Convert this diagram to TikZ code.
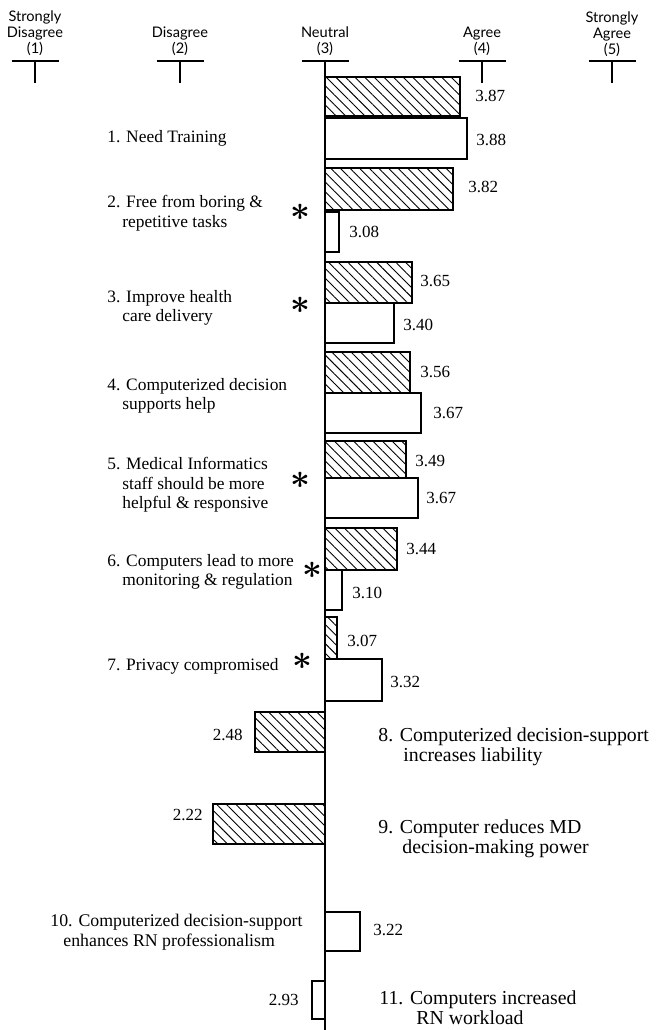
\documentclass[tikz,border=0pt]{standalone}
\usepackage{fontspec}
\setmainfont{Liberation Serif}
\newfontfamily\headfont{Lato}
\usetikzlibrary{patterns.meta}
\tikzset{
  mdbar/.style={draw=black,line width=0.6pt,pattern={Lines[angle=-45,distance=3.4pt,line width=0.45pt]}},
  rnbar/.style={draw=black,line width=0.6pt,fill=white},
  scaletick/.style={line width=1.1pt},
  axisline/.style={line width=1.1pt},
  scalelab/.style={font=\headfont\fontsize{7.3}{7.9}\selectfont,align=center,anchor=south,inner sep=0pt},
  itemL/.style={font=\fontsize{8.7}{9.7}\selectfont,align=left,anchor=north west,inner sep=0pt},
  itemR/.style={font=\fontsize{9.9}{10.2}\selectfont,align=left,anchor=north west,inner sep=0pt},
  val/.style={font=\fontsize{8.5}{8.5}\selectfont,inner sep=0pt},
  sig/.style={font=\fontsize{19}{19}\selectfont\boldmath,inner sep=0pt}
}
\newcommand{\scalemark}[1]{\draw[scaletick] (#1-23.5,61) -- (#1+23.5,61) (#1,61) -- (#1,83);}

\begin{document}
\begin{tikzpicture}[x=0.5pt,y=-0.5pt]
  \fill[white] (0,0) rectangle (662,1030);
  \useasboundingbox (0,0) rectangle (662,1030);

  \node[scalelab] (sd) at (35,56) {Strongly\\Disagree\\(1)};
  \node[scalelab] (dis) at (180,56) {Disagree\\(2)};
  \node[scalelab] (neu) at (325,56) {Neutral\\(3)};
  \node[scalelab] (agr) at (482,56) {Agree\\(4)};
  \node[scalelab] (sa) at (612,57) {Strongly\\Agree\\(5)};
  \scalemark{35}
  \scalemark{180}
  \scalemark{482}
  \scalemark{612}
  \draw[scaletick] (302,61) -- (349,61);

  \draw[mdbar] (325,77) rectangle (460,116);
  \draw[rnbar] (325,118) rectangle (467,159);
  \draw[mdbar] (325,168) rectangle (453,210);
  \draw[rnbar] (325,212) rectangle (339,252);
  \draw[mdbar] (325,262) rectangle (412,303);
  \draw[rnbar] (325,303) rectangle (394,343);
  \draw[mdbar] (325,352) rectangle (410,393);
  \draw[rnbar] (325,393) rectangle (421,433);
  \draw[mdbar] (325,441) rectangle (406,478);
  \draw[rnbar] (325,478) rectangle (418,518);
  \draw[mdbar] (325,528) rectangle (397,570);
  \draw[rnbar] (325,570) rectangle (342,610);
  \draw[mdbar] (325,617) rectangle (337,659);
  \draw[rnbar] (325,659) rectangle (382,701);
  \draw[mdbar] (255,712) rectangle (325,752);
  \draw[mdbar] (213,804) rectangle (325,844);
  \draw[rnbar] (325,912) rectangle (360,951);
  \draw[rnbar] (312,981) rectangle (325,1019);
  \draw[axisline] (325,61) -- (325,1030);

  \node[val,anchor=west] (v1md) at (475,96) {3.87};
  \node[val,anchor=west] (v1rn) at (476,140) {3.88};
  \node[val,anchor=west] (v2md) at (468,187) {3.82};
  \node[val,anchor=west] (v2rn) at (349,232) {3.08};
  \node[val,anchor=west] (v3md) at (420,281) {3.65};
  \node[val,anchor=west] (v3rn) at (403,325) {3.40};
  \node[val,anchor=west] (v4md) at (420,372) {3.56};
  \node[val,anchor=west] (v4rn) at (433,413) {3.67};
  \node[val,anchor=west] (v5md) at (415,461) {3.49};
  \node[val,anchor=west] (v5rn) at (426,498) {3.67};
  \node[val,anchor=west] (v6md) at (406,549) {3.44};
  \node[val,anchor=west] (v6rn) at (352,593) {3.10};
  \node[val,anchor=west] (v7md) at (347,641) {3.07};
  \node[val,anchor=west] (v7rn) at (390,682) {3.32};
  \node[val,anchor=east] (v8md) at (243,735) {2.48};
  \node[val,anchor=east] (v9md) at (203,815) {2.22};
  \node[val,anchor=west] (v10rn) at (373,930) {3.22};
  \node[val,anchor=east] (v11rn) at (299,1000) {2.93};

  \node[itemL] (it1) at (107,130) {1. Need Training};
  \node[itemL] (it2) at (107,195) {2. Free from boring \&\\\hspace*{7.5pt}repetitive tasks};
  \node[itemL] (it3) at (107,290) {3. Improve health\\\hspace*{7.5pt}care delivery};
  \node[itemL] (it4) at (107,378) {4. Computerized decision\\\hspace*{7.5pt}supports help};
  \node[itemL] (it5) at (107,457) {5. Medical Informatics\\\hspace*{7.5pt}staff should be more\\\hspace*{7.5pt}helpful \& responsive};
  \node[itemL] (it6) at (107,554) {6. Computers lead to more\\\hspace*{7.5pt}monitoring \& regulation};
  \node[itemL] (it7) at (107,658) {7. Privacy compromised};
  \node[itemR] (it8) at (378,727) {8. Computerized decision-support\\\hspace*{12.5pt}increases liability};
  \node[itemR] (it9) at (378,819) {9. Computer reduces MD\\\hspace*{12pt}decision-making power};
  \node[itemL,font=\fontsize{8.9}{9.9}\selectfont] (it10) at (50,914) {10. Computerized decision-support\\\hspace*{6.5pt}enhances RN professionalism};
  \node[itemR] (it11) at (379,990) {11. Computers increased\\\hspace*{18.5pt}RN workload};

  \node[sig] (s2) at (300,212) {$\ast$};
  \node[sig] (s3) at (300,305) {$\ast$};
  \node[sig] (s5) at (300,480) {$\ast$};
  \node[sig] (s6) at (312,570) {$\ast$};
  \node[sig] (s7) at (302,661) {$\ast$};
\end{tikzpicture}
\end{document}
